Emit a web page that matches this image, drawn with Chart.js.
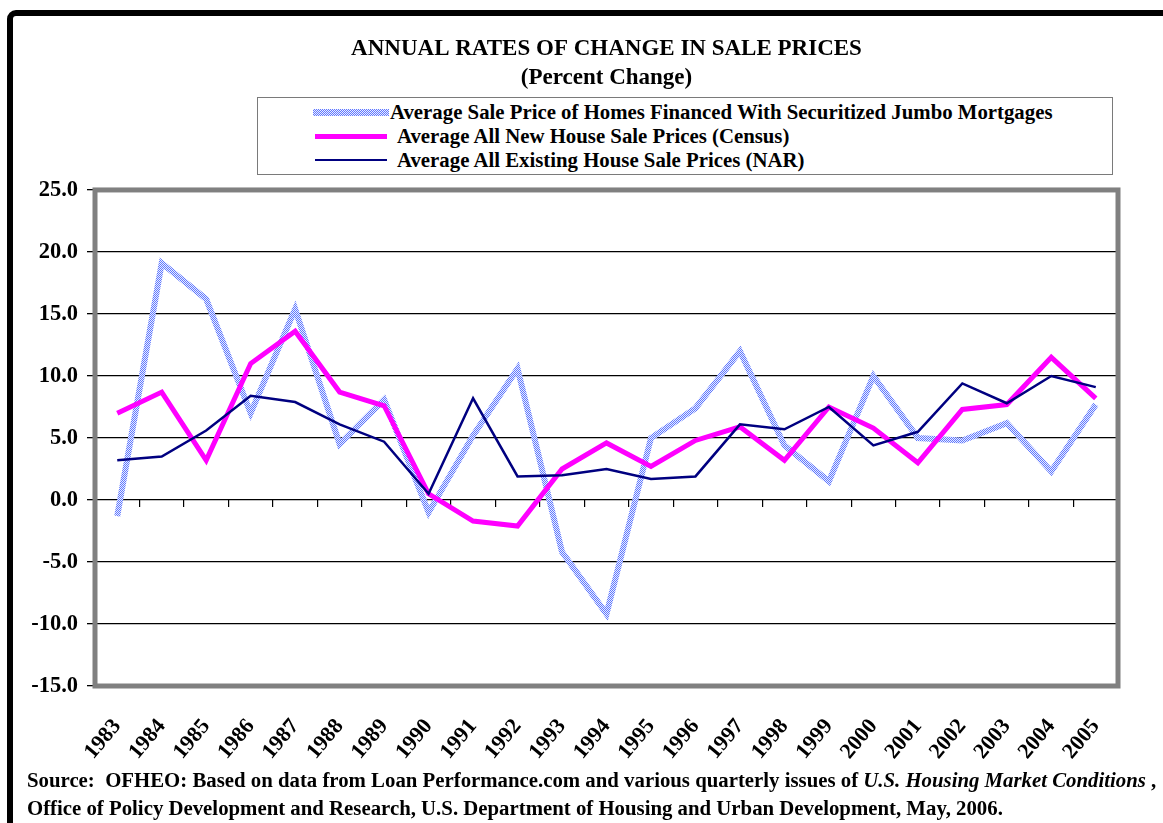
<!DOCTYPE html>
<html>
<head>
<meta charset="utf-8">
<script src="https://cdn.jsdelivr.net/npm/chart.js@4/dist/chart.umd.min.js"></script>
<style>
  html, body { margin:0; padding:0; width:1163px; height:823px; overflow:hidden; background:#fff; }
  #frame { position:absolute; left:7px; top:10px; width:1260px; height:900px; border:6px solid #000; border-radius:9px; box-sizing:border-box; }
  #c { position:absolute; left:0; top:0; }
  #legend { position:absolute; left:257px; top:97px; width:856px; height:78px; border:1px solid #7a7a7a; box-sizing:border-box; background:#fff;
            font-family:'Liberation Serif', 'Times New Roman', serif; font-weight:bold; font-size:20.8px; color:#000; }
  .row { position:absolute; left:0; height:24px; white-space:nowrap; }
  .sw { position:absolute; }
  .txt { position:absolute; line-height:24px; top:0; }
  #source { position:absolute; left:27px; top:766px; font-family:'Liberation Serif', 'Times New Roman', serif; font-weight:bold; font-size:20.8px; line-height:28px; color:#000; white-space:pre; }
</style>
</head>
<body>
<div id="frame"></div>
<canvas id="c" width="1163" height="823"></canvas>
<div id="legend"></div>
<div id="source">Source:  OFHEO: Based on data from Loan Performance.com and various quarterly issues of <i>U.S. Housing Market Conditions</i> ,
Office of Policy Development and Research, U.S. Department of Housing and Urban Development, May, 2006.</div>
<script>
// ---- data ----
const years = ['1983','1984','1985','1986','1987','1988','1989','1990','1991','1992','1993','1994','1995','1996','1997','1998','1999','2000','2001','2002','2003','2004','2005'];
const jumboValues    = [-1.3, 19.1, 16.2, 7.0, 15.4, 4.5, 8.1, -1.0, 5.2, 10.6, -4.2, -9.2, 5.0, 7.4, 12.0, 4.4, 1.5, 10.0, 5.0, 4.8, 6.2, 2.3, 7.7];
const newHomeValues  = [7.0, 8.7, 3.2, 11.0, 13.6, 8.7, 7.6, 0.5, -1.7, -2.1, 2.5, 4.6, 2.7, 4.8, 5.9, 3.2, 7.5, 5.8, 3.0, 7.3, 7.7, 11.5, 8.2];
const existingValues = [3.2, 3.5, 5.6, 8.4, 7.9, 6.1, 4.7, 0.5, 8.2, 1.9, 2.0, 2.5, 1.7, 1.9, 6.1, 5.7, 7.5, 4.4, 5.5, 9.4, 7.8, 10.0, 9.1];
const seriesNames = [
  'Average Sale Price of Homes Financed With Securitized Jumbo Mortgages',
  'Average All New House Sale Prices (Census)',
  'Average All Existing House Sale Prices (NAR)'
];
const titleLines = ['ANNUAL RATES OF CHANGE IN SALE PRICES', '(Percent Change)'];
const yMin = -15, yMax = 25, yStep = 5;

// ---- pattern for jumbo series ----
function makePattern() {
  const pc = document.createElement('canvas');
  pc.width = 2; pc.height = 2;
  const g = pc.getContext('2d');
  g.fillStyle = '#e9edff'; g.fillRect(0,0,2,2);
  g.fillStyle = '#6179ff'; g.fillRect(0,0,1,1); g.fillRect(1,1,1,1);
  return g.createPattern(pc, 'repeat');
}
const ctx = document.getElementById('c').getContext('2d');
const jumboPattern = makePattern();

// ---- legend (HTML) ----
const legendStyles = [
  {top: 2,  swLeft: 55, swWidth: 76, swHeight: 7, bg: 'repeating-conic-gradient(#6179ff 0 25%, #e9edff 0 50%) 0 0/2px 2px', txtLeft: 132},
  {top: 26, swLeft: 57, swWidth: 72, swHeight: 5, bg: '#ff00ff', txtLeft: 139},
  {top: 50, swLeft: 57, swWidth: 72, swHeight: 2.5, bg: '#000080', txtLeft: 139}
];
const legendEl = document.getElementById('legend');
seriesNames.forEach((name, i) => {
  const s = legendStyles[i];
  const row = document.createElement('div');
  row.className = 'row';
  row.style.top = s.top + 'px';
  row.style.width = '100%';
  const sw = document.createElement('div');
  sw.className = 'sw';
  sw.style.left = s.swLeft + 'px';
  sw.style.width = s.swWidth + 'px';
  sw.style.height = s.swHeight + 'px';
  sw.style.top = (12 - s.swHeight / 2) + 'px';
  sw.style.background = s.bg;
  const tx = document.createElement('div');
  tx.className = 'txt';
  tx.style.left = s.txtLeft + 'px';
  tx.textContent = name;
  row.appendChild(sw); row.appendChild(tx);
  legendEl.appendChild(row);
});

// ---- plot-area frame plugin ----
const framePlugin = {
  id: 'plotFrame',
  afterDraw(chart) {
    const a = chart.chartArea, c = chart.ctx;
    c.save();
    c.strokeStyle = '#808080';
    c.lineWidth = 5;
    c.strokeRect(a.left, a.top, a.right - a.left, a.bottom - a.top);
    c.restore();
  }
};

const serif = "'Liberation Serif', 'Times New Roman', serif";

new Chart(ctx, {
  type: 'line',
  data: {
    labels: years,
    datasets: [
      { label: seriesNames[2], data: existingValues, borderColor: '#000080', borderWidth: 2.5, pointRadius: 0, tension: 0, order: 1 },
      { label: seriesNames[1], data: newHomeValues, borderColor: '#ff00ff', borderWidth: 5, pointRadius: 0, tension: 0, order: 2 },
      { label: seriesNames[0], data: jumboValues, borderColor: jumboPattern, borderWidth: 6, pointRadius: 0, tension: 0, order: 3 }
    ]
  },
  options: {
    responsive: false,
    animation: false,
    devicePixelRatio: 1,
    layout: { padding: { left: 0, right: 45, top: 0, bottom: 47 } },
    plugins: {
      legend: { display: false },
      tooltip: { enabled: false },
      title: {
        display: true,
        text: titleLines,
        fullSize: false,
        color: '#000',
        font: { family: serif, size: 23, weight: 'bold', lineHeight: 1.26 },
        padding: { top: 35, bottom: 97 }
      }
    },
    scales: {
      x: {
        type: 'category',
        offset: true,
        grid: { display: false },
        border: { display: false },
        ticks: {
          autoSkip: false, minRotation: 50, maxRotation: 50, padding: 20,
          color: '#000', font: { family: serif, size: 22, weight: 'bold' }
        },
        afterFit(s) { s.height = 90; }
      },
      x2: {
        type: 'category',
        axis: 'x',
        labels: years,
        position: { y: 0 },
        offset: true,
        grid: { offset: true, drawOnChartArea: false, drawTicks: true, tickLength: 7, color: '#000', lineWidth: 1.2 },
        border: { display: false },
        ticks: { display: false }
      },
      y: {
        min: yMin, max: yMax,
        grid: { color: '#000', lineWidth: 1.3, tickLength: 8 },
        border: { display: false },
        ticks: {
          stepSize: yStep, padding: 9, color: '#000',
          font: { family: serif, size: 22.5, weight: 'bold' },
          callback: v => Number(v).toFixed(1)
        },
        afterFit(s) { s.width = 95; }
      }
    }
  },
  plugins: [framePlugin]
});
</script>
</body>
</html>
